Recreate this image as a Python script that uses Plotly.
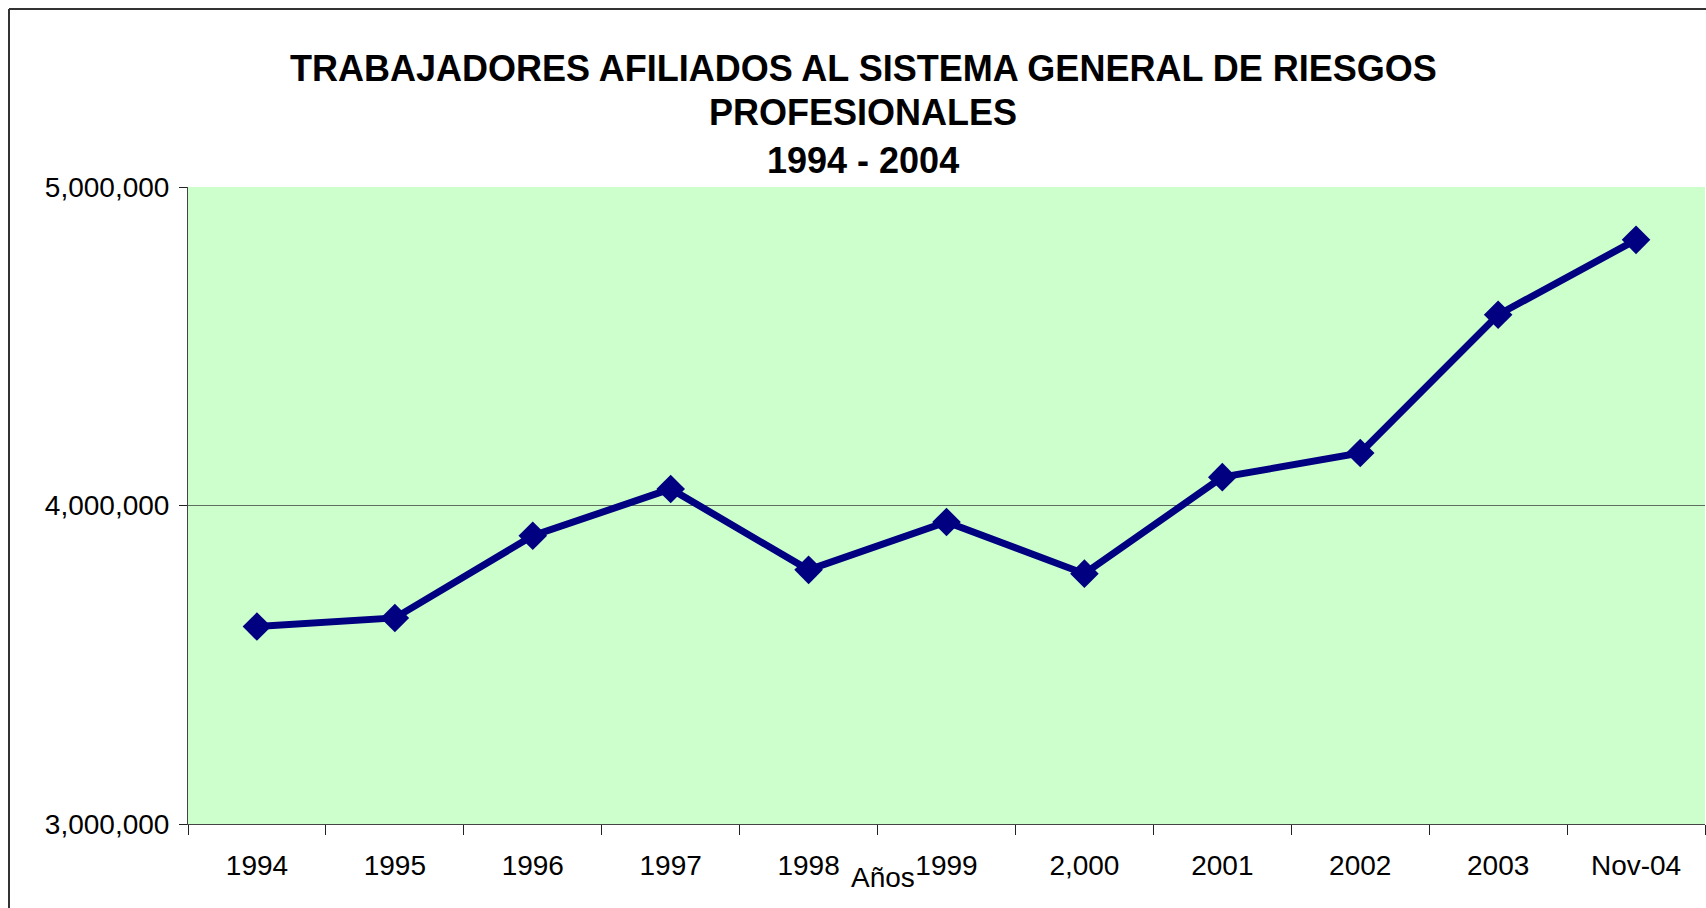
import plotly.graph_objects as go

# ---- data ----
categories = ["1994", "1995", "1996", "1997", "1998", "1999", "2,000", "2001", "2002", "2003", "Nov-04"]
afiliados = [3620000, 3647000, 3905000, 4052000, 3798000, 3948000, 3786000, 4089000, 4165000, 4599000, 4834000]
y_ticks = [3000000, 4000000, 5000000]
y_tick_labels = ["3,000,000", "4,000,000", "5,000,000"]
title_lines = ["TRABAJADORES AFILIADOS AL SISTEMA GENERAL DE RIESGOS", "PROFESIONALES", "1994 - 2004"]
x_title = "Años"

# figure fills the whole 1706x908 window (body margin removed below)
W, H = 1706, 908
L, T = 188, 187
PLOT_RIGHT, PLOT_BOTTOM = 1705, 824
R, B = W - PLOT_RIGHT, H - PLOT_BOTTOM
PW, PH = W - L - R, H - T - B

def px_x(x):
    return (x - L) / PW

def px_y(y):
    return (PLOT_BOTTOM - y) / PH

FONT = "Liberation Sans, Arial, sans-serif"

fig = go.Figure()
fig.add_trace(go.Scatter(
    x=categories, y=afiliados, mode="lines+markers",
    line=dict(color="#000080", width=7),
    marker=dict(symbol="diamond", size=22, color="#000080"),
    showlegend=False, hoverinfo="x+y",
))

fig.update_layout(
    width=W, height=H,
    margin=dict(l=L, r=R, t=T, b=B, pad=0),
    paper_bgcolor="white",
    plot_bgcolor="#CCFFCC",
    font=dict(family=FONT, color="black", size=28),
    xaxis=dict(
        type="category", range=[-0.5, len(categories) - 0.5],
        showgrid=False, showline=True, linecolor="#444", linewidth=1,
        ticks="outside", tickson="boundaries", ticklen=10, tickcolor="#222",
        tickfont=dict(size=28, family=FONT), ticklabelstandoff=16,
        zeroline=False,
    ),
    yaxis=dict(
        range=[3000000, 5000000], tickvals=y_ticks, ticktext=y_tick_labels,
        showgrid=True, gridcolor="#5f6f5f", gridwidth=1,
        showline=True, linecolor="#444", linewidth=1,
        ticks="outside", ticklen=8, tickcolor="#222",
        tickfont=dict(size=28, family=FONT), ticklabelstandoff=4,
        zeroline=False,
    ),
)

title_y = [68, 113, 160]
for txt, yy in zip(title_lines, title_y):
    fig.add_annotation(
        text="<b>" + txt + "</b>", xref="paper", yref="paper",
        x=px_x(863), y=px_y(yy), xanchor="center", yanchor="middle",
        showarrow=False, font=dict(size=36, family=FONT, color="black"),
    )

fig.add_annotation(
    text=x_title, xref="paper", yref="paper",
    x=px_x(883), y=px_y(877), xanchor="center", yanchor="middle",
    showarrow=False, font=dict(size=28, family=FONT, color="black"),
)

# outer chart border: only the left and top edges are visible in the crop
fig.add_shape(
    type="line", xref="paper", yref="paper",
    x0=px_x(9), x1=px_x(9), y0=px_y(H + 20), y1=px_y(9),
    line=dict(color="#333", width=2), layer="above",
)
fig.add_shape(
    type="line", xref="paper", yref="paper",
    x0=px_x(9), x1=px_x(W + 20), y0=px_y(9), y1=px_y(9),
    line=dict(color="#333", width=2), layer="above",
)

fig.write_html(
    "out.html",
    config={"displayModeBar": False},
    post_script=(
        "document.documentElement.style.margin='0';"
        "document.documentElement.style.overflow='hidden';"
        "document.body.style.margin='0';"
        "document.body.style.overflow='hidden';"
    ),
)
